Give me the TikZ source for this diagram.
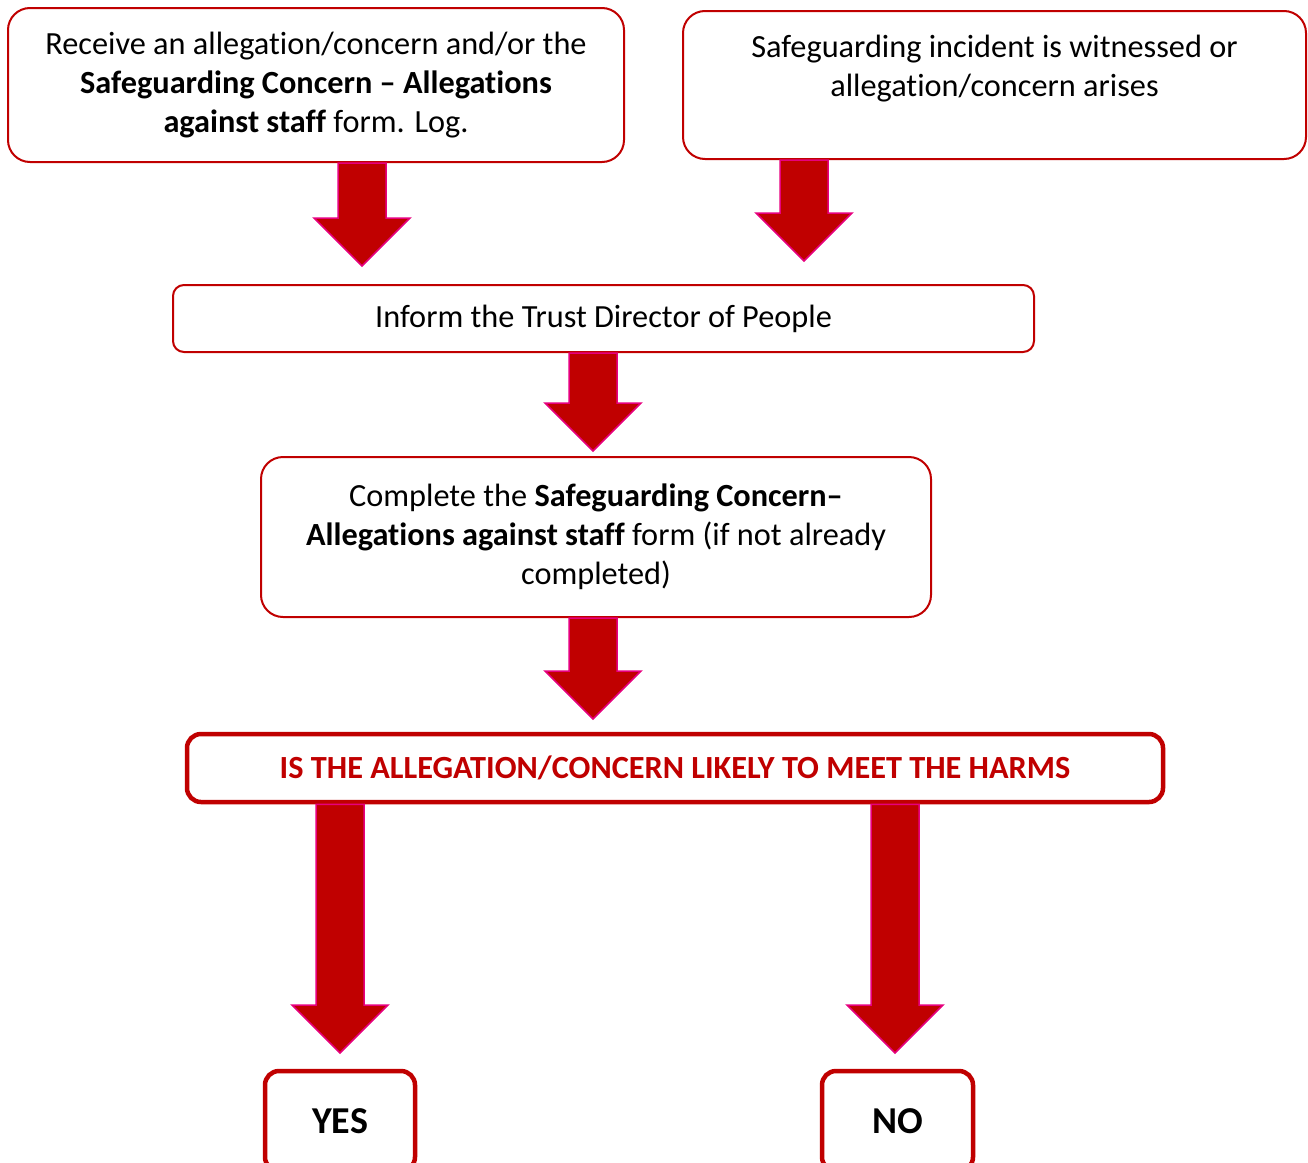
\documentclass[tikz,border=0pt]{standalone}
\usepackage{fontspec}
\setmainfont{Carlito}[Ligatures=NoCommon]
\usetikzlibrary{calc}
\definecolor{boxred}{HTML}{C00000}
\definecolor{edgepink}{HTML}{E6007E}
\begin{document}
\begin{tikzpicture}[
    x=1pt, y=-1pt,
    box/.style={draw=boxred, line width=2pt, rounded corners=#1, align=center, font=\fontsize{32.3}{39}\selectfont},
    box/.default=14pt,
    bigbox/.style={draw=boxred, line width=4.5pt, rounded corners=14pt, align=center, font=\fontsize{32.3}{39}\selectfont\bfseries},
    blockarrow/.style={fill=boxred, draw=edgepink, line width=1.5pt, line join=miter}
]
    \useasboundingbox (0,0) rectangle (1308,1162);
    \clip (0,0) rectangle (1308,1162);

    % Starting points
    \node[box=22pt, minimum width=616pt, minimum height=154pt] (recv) at (316,85)
        {Receive an allegation/concern and/or the\\\textbf{Safeguarding Concern -- Allegations}\\\textbf{against staff} form. Log.};
    \node[box=22pt, minimum width=623pt, minimum height=148pt] (seen) at (994.5,85)
        {Safeguarding incident is witnessed or\\allegation/concern arises\\~};

    % Middle steps
    \node[box=11pt, minimum width=861pt, minimum height=67pt] (inform) at (603.5,318.5)
        {Inform the Trust Director of People};
    \node[box=22pt, minimum width=670pt, minimum height=160pt] (form) at (596,537)
        {Complete the \textbf{Safeguarding Concern--}\\\textbf{Allegations against staff} form (if not already\\completed)};

    % Question
    \node[bigbox, text=boxred, minimum width=976pt, minimum height=68pt] (harms) at (675,768)
        {IS THE ALLEGATION/CONCERN LIKELY TO MEET THE HARMS};

    % Answers
    \node[bigbox, font=\fontsize{38}{44}\selectfont\bfseries, minimum width=150pt, minimum height=100pt] (yes) at (340,1121) {YES};
    \node[bigbox, font=\fontsize{38}{44}\selectfont\bfseries, minimum width=151pt, minimum height=100pt] (no) at (897.5,1121) {NO};

    % Arrow tips
    \coordinate (t1) at (362,266);
    \coordinate (t2) at (804,261);
    \coordinate (t3) at (593,451);
    \coordinate (t4) at (593,719);
    \coordinate (t5) at (340,1053);
    \coordinate (t6) at (895,1053);

    % Block arrows
    \foreach \src/\tip in {recv/t1, seen/t2, inform/t3, form/t4, harms/t5, harms/t6}
        \draw[blockarrow] let \p1=(\src.south -| \tip), \p2=(\tip) in
            (\x2-24pt,\y1) -- (\x2+24pt,\y1) -- (\x2+24pt,\y2+48pt) -- (\x2+48pt,\y2+48pt)
            -- (\x2,\y2) -- (\x2-48pt,\y2+48pt) -- (\x2-24pt,\y2+48pt) -- cycle;
\end{tikzpicture}
\end{document}
